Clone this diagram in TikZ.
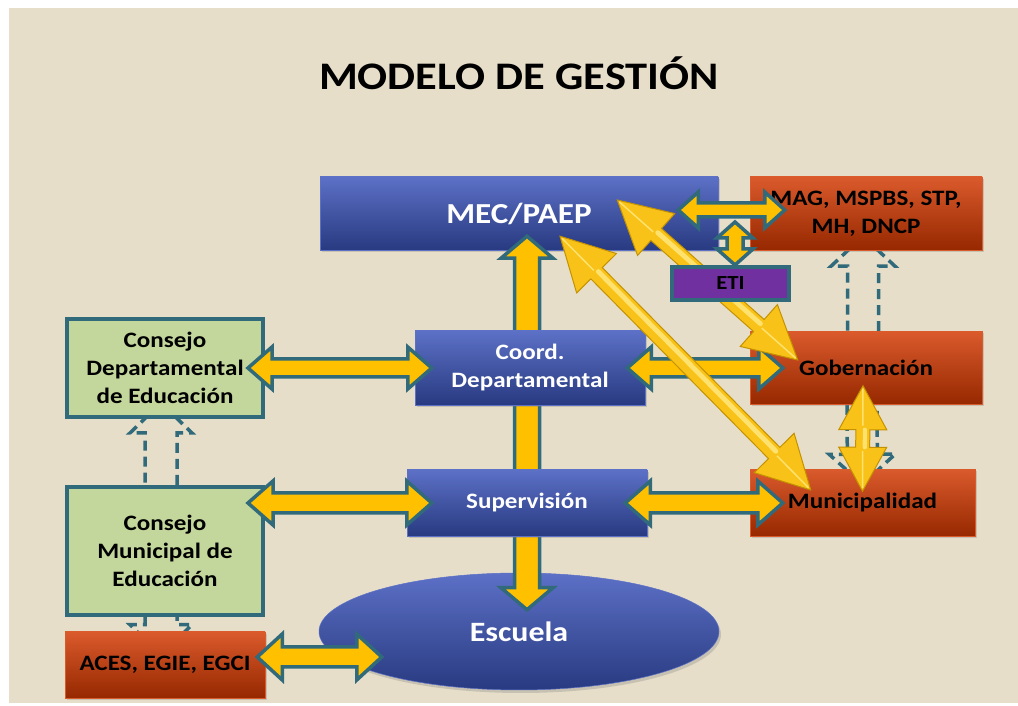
\documentclass[tikz,border=0pt]{standalone}
\usepackage{fontspec}
\setmainfont{Carlito}[FakeStretch=1.14]
\usepackage{tikz}
\usetikzlibrary{shapes,shadows,calc}
\pgfdeclarelayer{back}
\pgfdeclarelayer{behind}
\pgfdeclarelayer{front}
\pgfsetlayers{back,behind,main,front}
\definecolor{bgbeige}{RGB}{230,222,201}
\definecolor{bluetop}{RGB}{92,112,198}
\definecolor{bluebot}{RGB}{40,58,128}
\definecolor{redtop}{RGB}{218,90,44}
\definecolor{redbot}{RGB}{150,40,0}
\definecolor{cgreen}{RGB}{195,214,155}
\definecolor{cteal}{RGB}{49,106,122}
\definecolor{cyellow}{RGB}{255,192,0}
\definecolor{cgold}{RGB}{248,194,24}
\definecolor{cgoldlight}{RGB}{255,226,110}
\definecolor{cgoldedge}{RGB}{196,146,0}
\definecolor{cpurple}{RGB}{112,48,160}
\tikzstyle{title}=[anchor=base, font=\bfseries\fontsize{39}{47}\selectfont]
\tikzstyle{bluebox}=[rectangle, top color=bluetop, bottom color=bluebot, draw=bluetop, line width=0.5pt, text=white, align=center, font=\bfseries\fontsize{22}{28}\selectfont, drop shadow={shadow xshift=2pt, shadow yshift=-2pt, opacity=0.3}]
\tikzstyle{redbox}=[rectangle, top color=redtop, bottom color=redbot, draw=redtop, line width=0.5pt, text=black, align=center, font=\bfseries\fontsize{22}{28}\selectfont, drop shadow={shadow xshift=2pt, shadow yshift=-2pt, opacity=0.3}]
\tikzstyle{greenbox}=[rectangle, fill=cgreen, draw=cteal, line width=4pt, align=center, font=\bfseries\fontsize{22}{28}\selectfont]
\tikzstyle{etibox}=[rectangle, fill=cpurple, draw=cteal, line width=4pt, minimum width=117pt, minimum height=33pt, font=\bfseries\fontsize{20}{24}\selectfont]
\tikzstyle{escuela}=[ellipse, top color=bluetop, bottom color=bluebot, draw=bluetop, line width=0.5pt, text=white, minimum width=400pt, minimum height=117pt, font=\bfseries\fontsize{28}{34}\selectfont, drop shadow={shadow xshift=2pt, shadow yshift=-3pt, opacity=0.3}]
\tikzstyle{tealarrow}=[fill=cyellow, draw=cteal, line width=3.5pt, line join=miter]
\tikzstyle{goldarrow}=[fill=cgold, draw=cgoldedge, line width=1pt, line join=miter]
\tikzstyle{dashoutline}=[draw=cteal, line width=3.5pt, dash pattern=on 10pt off 6pt]
\newcommand{\bluebox}[5]{
	\node[bluebox, minimum width=#3, minimum height=#4] (#1) at (#2) {#5};}
\newcommand{\redbox}[5]{
	\node[redbox, minimum width=#3, minimum height=#4] (#1) at (#2) {#5};}
\newcommand{\greenbox}[5]{
	\node[greenbox, minimum width=#3, minimum height=#4] (#1) at (#2) {#5};}
\newcommand{\arrowframe}[2]{
	\coordinate (ba) at (#1);
	\coordinate (bb) at (#2);
	\path let \p1=($(bb)-(ba)$) in \pgfextra{
		\pgfmathsetmacro{\arrang}{atan2(\y1,\x1)}
		\pgfmathsetmacro{\arrlen}{veclen(\x1,\y1)}
		\global\let\arrang\arrang \global\let\arrlen\arrlen};}
\newcommand{\blockarrow}[6][tealarrow]{
	\arrowframe{#2}{#3}
	\draw[#1, shift={(ba)}, rotate=\arrang] (0,0) -- (#6,#5) -- (#6,#4) -- (\arrlen-#6,#4) -- (\arrlen-#6,#5) -- (\arrlen,0) -- (\arrlen-#6,-#5) -- (\arrlen-#6,-#4) -- (#6,-#4) -- (#6,-#5) -- cycle;}
\newcommand{\goldarrow}[5]{
	\blockarrow[goldarrow]{#1}{#2}{#3}{#4}{#5}
	\draw[cgoldlight, line width=0.6*#3, line cap=round, shift={(ba)}, rotate=\arrang] (#5,0.3*#3) -- (\arrlen-#5,0.3*#3);
	\draw[cgoldlight, line width=1.5pt, shift={(ba)}, rotate=\arrang] (3,0) -- (#5-4,0) (\arrlen-3,0) -- (\arrlen-#5+4,0);}
\newcommand{\dashedarrow}[5]{
	\arrowframe{#1}{#2}
	\draw[dashoutline, shift={(ba)}, rotate=\arrang] (0,-#3) -- (\arrlen-#5,-#3) -- (\arrlen-#5,-#4) -- (\arrlen,0) -- (\arrlen-#5,#4) -- (\arrlen-#5,#3) -- (0,#3);}

\begin{document}
\begin{tikzpicture}[x=1pt, y=1pt]

\useasboundingbox (0,0) rectangle (1018,706);
\begin{pgfonlayer}{back}
\fill[white] (0,0) rectangle (1018,706);
\fill[bgbeige] (9,3) rectangle (1018,698);
\end{pgfonlayer}

\node[title] (title) at (519,616) {MODELO DE GESTIÓN};

\bluebox{mec}{519,492.5}{398pt}{73pt}{\fontsize{29}{34}\selectfont MEC/PAEP}
\redbox{mag}{866,492.5}{232pt}{73pt}{MAG, MSPBS, STP,\\MH, DNCP}
\redbox{gob}{866,338}{232pt}{73pt}{Gobernación}
\redbox{muni}{862.5,203}{225pt}{67pt}{Municipalidad}
\greenbox{cdep}{165,338}{196pt}{98pt}{Consejo\\Departamental\\de Educación}
\greenbox{cmun}{165,155}{196pt}{128pt}{Consejo\\Municipal de\\Educación}
\redbox{aces}{165,41}{200pt}{66pt}{ACES, EGIE, EGCI}
\node[escuela] (esc) at (519,74.5) {Escuela};

\blockarrow{$(mec.south)+(8,14)$}{$(esc.north)+(8,-37)$}{12.5}{26}{22}

\bluebox{coord}{530,338}{230pt}{74pt}{Coord.\\Departamental}
\bluebox{sup}{527,203}{240pt}{66pt}{Supervisión}

\begin{pgfonlayer}{behind}
\dashedarrow{$(gob.north)+(-3,0)$}{$(mag.south)+(-3,14)$}{15.5}{32}{30}
\dashedarrow{$(gob.south)+(-4,0)$}{$(muni.north)+(0,-15)$}{15}{33}{30}
\dashedarrow{$(cmun.north)+(-4,0)$}{$(cdep.south)+(-4,16)$}{16}{31}{30}
\dashedarrow{$(cmun.south)+(-4,0)$}{$(aces.north)+(-4,-23)$}{16}{31}{30}
\end{pgfonlayer}

\blockarrow{$(cdep.east)+(-17,0)$}{$(coord.west)+(17,0)$}{9}{21}{24}
\blockarrow{$(coord.east)+(-18,0)$}{$(gob.west)+(33,0)$}{9}{21}{24}
\blockarrow{$(cmun.east |- sup.west)+(-17,0)$}{$(sup.west)+(25,0)$}{10}{22}{25}
\blockarrow{$(sup.east)+(-22,0)$}{$(muni.west)+(33,0)$}{10}{22}{25}
\blockarrow{$(aces.east)+(-8,8)$}{$(esc.west)+(63,-25.5)$}{10}{23}{25}
\blockarrow{$(mec.east)+(-40,3.5)$}{$(mag.west)+(35,3.5)$}{7}{18}{20}

\goldarrow{$(mec.east)+(-101,13.5)$}{$(gob.west)+(48,8)$}{8}{28}{52}
\goldarrow{$(mec.south)+(41,14)$}{$(muni.west)+(61,13)$}{8}{28}{52}
\goldarrow{$(gob.south)+(-3,19)$}{$(muni.north)+(0,-22)$}{7}{24}{44}

\begin{pgfonlayer}{front}
\node[etibox] (eti) at (730.5,422.5) {ETI};
\blockarrow{$(eti.north)+(4.5,43)$}{$(eti.north)+(4.5,0)$}{8}{18}{16}
\end{pgfonlayer}

\end{tikzpicture}
\end{document}
